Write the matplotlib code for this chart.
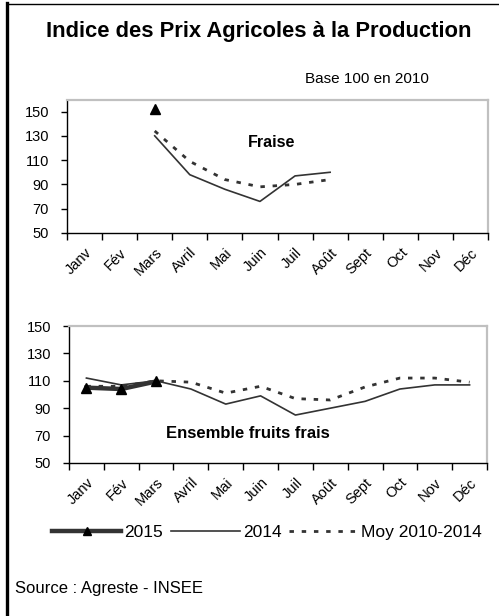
import matplotlib.pyplot as plt
from matplotlib.lines import Line2D
import numpy as np

plt.rcParams['font.family'] = ['Liberation Sans', 'DejaVu Sans']

# Données (indice base 100 en 2010)
mois = ["Janv", "Fév", "Mars", "Avril", "Mai", "Juin", "Juil", "Août", "Sept", "Oct", "Nov", "Déc"]
nan = np.nan
fraise_2015 = [nan, nan, 152, nan, nan, nan, nan, nan, nan, nan, nan, nan]
fraise_2014 = [nan, nan, 130, 98, 86, 76, 97, 100, nan, nan, nan, nan]
fraise_moy = [nan, nan, 134, 109, 94, 88, 90, 94, nan, nan, nan, nan]
fruits_2015 = [105, 104, 109.5, nan, nan, nan, nan, nan, nan, nan, nan, nan]
fruits_2014 = [112, 107, 110, 104, 93, 99, 85, 90, 95, 104, 107, 107]
fruits_moy = [106, 106, 110, 109, 101, 106, 97, 96, 105.5, 112, 112, 109]
yticks = [50, 70, 90, 110, 130, 150]

W, H = 499, 616
fig = plt.figure(figsize=(W / 100, H / 100), dpi=100)
fig.patch.set_facecolor("white")

gris = "#333333"


def panneau(rect, ymax, v2015, v2014, vmoy, nom, nom_xy, nom_fs):
    ax = fig.add_axes(rect)
    x = np.arange(len(mois))
    l14, = ax.plot(x, v2014, color=gris, lw=1.2, label="2014")
    lmoy, = ax.plot(x, vmoy, color=gris, lw=2.0, linestyle=(0, (1.6, 2.8)), label="Moy 2010-2014")
    l15, = ax.plot(x, v2015, color=gris, lw=3.2, marker="^", markersize=7,
                   markerfacecolor="black", markeredgecolor="black", label="2015")
    ax.set_xlim(-0.5, len(mois) - 0.5)
    ax.set_ylim(50, ymax)
    ax.set_yticks(yticks)
    ax.set_yticklabels([str(v) for v in yticks], fontsize=10.5)
    ax.set_xticks(x)
    ax.set_xticklabels(mois, fontsize=10.5, rotation=45, ha="right", rotation_mode="anchor")
    ax.set_xticks(np.arange(-0.5, len(mois)), minor=True)
    ax.tick_params(axis="x", which="major", length=0, pad=9)
    ax.tick_params(axis="x", which="minor", length=5, width=1, direction="out")
    ax.tick_params(axis="y", length=4, width=1, direction="out", pad=9)
    for s in ["top", "right"]:
        ax.spines[s].set_color("#c0c0c0")
        ax.spines[s].set_linewidth(1.6)
    for s in ["left", "bottom"]:
        ax.spines[s].set_color("black")
        ax.spines[s].set_linewidth(1)
    ax.text(nom_xy[0], nom_xy[1], nom, transform=fig.transFigure, fontsize=nom_fs,
            fontweight="bold", ha="center", va="center")
    return l15, l14, lmoy


# Fraise
panneau([67 / W, 1 - 233 / H, 421 / W, 133 / H], 159.5,
        fraise_2015, fraise_2014, fraise_moy, "Fraise", (272 / W, 1 - 142 / H), 11.5)
# Ensemble fruits frais
handles = panneau([69 / W, 1 - 463 / H, 418 / W, 137 / H], 150,
                  fruits_2015, fruits_2014, fruits_moy, "Ensemble fruits frais",
                  (248 / W, 1 - 434 / H), 12)

fig.text(259 / W, 1 - 32 / H, "Indice des Prix Agricoles à la Production",
         fontsize=15.8, fontweight="bold", ha="center", va="center")
fig.text(367 / W, 1 - 79 / H, "Base 100 en 2010", fontsize=11, ha="center", va="center")
fig.text(15 / W, 1 - 588 / H, "Source : Agreste - INSEE", fontsize=12, ha="left", va="center")

fig.legend(handles, ["2015", "2014", "Moy 2010-2014"], loc="center",
           bbox_to_anchor=(267 / W, 1 - 532 / H), ncol=3, frameon=False,
           fontsize=12.5, handlelength=4.0, handletextpad=0.15, columnspacing=0.45,
           markerscale=0.8)

# cadre : bord gauche épais et bord haut
fig.add_artist(Line2D([6.5 / W, 6.5 / W], [0, 1 - 3 / H], color="black", lw=2.4,
                      transform=fig.transFigure))
fig.add_artist(Line2D([6.5 / W, 1], [1 - 3.5 / H, 1 - 3.5 / H], color="black", lw=1,
                      transform=fig.transFigure))

fig.savefig("out.png", dpi=100)
